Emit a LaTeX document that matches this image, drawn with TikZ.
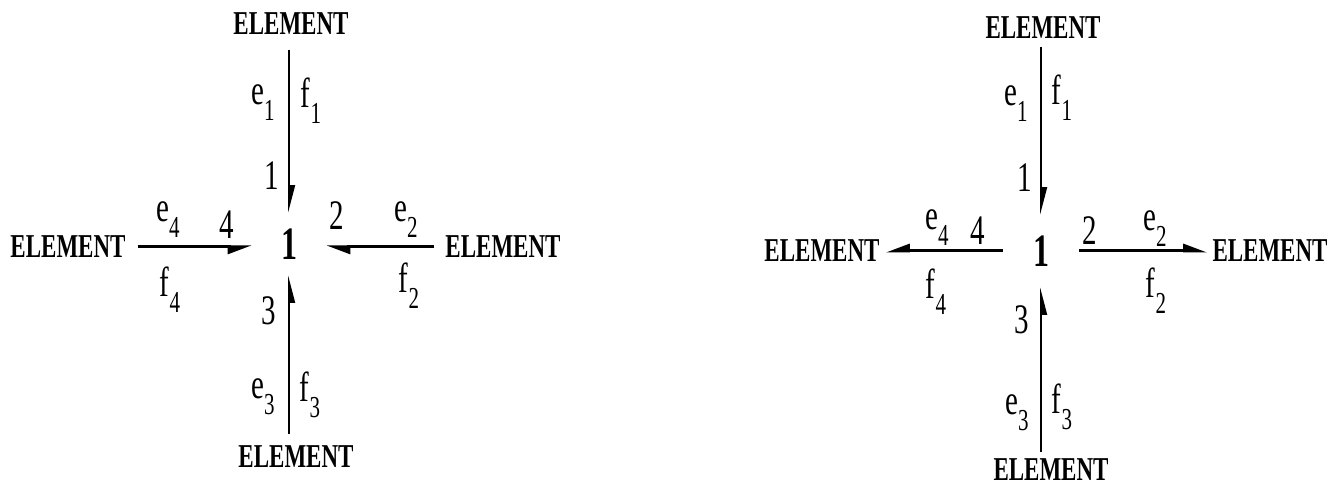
\documentclass[tikz,border=0pt]{standalone}
\usepackage{fontspec}
\setmainfont{Liberation Serif}
\usetikzlibrary{arrows.meta}
\newcommand\vstretch[1]{\scalebox{1}[1.45]{#1}}
\newcommand\lab[2]{#1\raisebox{-0.38em}{\fontsize{21}{21}\selectfont #2}}
\begin{document}
\begin{tikzpicture}[x=1pt,y=-1pt,
  elem/.style={font=\fontsize{23}{23}\selectfont\bfseries, inner sep=0pt, outer sep=12pt},
  junc/.style={font=\fontsize{32}{32}\selectfont\bfseries, inner sep=0pt},
  lbl/.style={font=\fontsize{29}{29}\selectfont, inner sep=0pt},
  vbond/.style={line width=1.8pt, -{Triangle[harpoon,length=24pt,width=12pt]}},
  vbonds/.style={line width=1.8pt, -{Triangle[harpoon,swap,length=24pt,width=12pt]}},
  hbond/.style={line width=3pt, -{Triangle[harpoon,length=20pt,width=14pt]}},
  hbonds/.style={line width=3pt, -{Triangle[harpoon,swap,length=20pt,width=14pt]}}]
\useasboundingbox (0,0) rectangle (1328,489);
% ---------- left diagram ----------
\node[junc, minimum width=74pt, minimum height=62pt] (jA) at (289,244) {\vstretch{1}};
\node[elem, outer sep=15pt] (tA) at (291,24) {\vstretch{ELEMENT}};
\node[elem] (bA) at (296,457) {\vstretch{ELEMENT}};
\node[elem] (lA) at (68,247) {\vstretch{ELEMENT}};
\node[elem, outer sep=11pt] (rA) at (503,247) {\vstretch{ELEMENT}};
\draw[vbond] (jA.north |- tA.south) -- (jA.north);
\draw[vbonds] (jA.south |- bA.north) -- (jA.south);
\draw[hbonds] (lA.east) -- (lA.east -| jA.west);
\draw[hbond] (rA.west) -- (rA.west -| jA.east);
\node[lbl] (e1A) at (263,103) {\vstretch{\lab{e}{1}}};
\node[lbl] (f1A) at (311,101) {\vstretch{\lab{f}{1}}};
\node[lbl] (n1A) at (272,176) {\vstretch{1}};
\node[lbl] (e4A) at (168,220) {\vstretch{\lab{e}{4}}};
\node[lbl] (n4A) at (227,225) {\vstretch{4}};
\node[lbl] (f4A) at (170,290) {\vstretch{\lab{f}{4}}};
\node[lbl] (n2A) at (337,216) {\vstretch{2}};
\node[lbl] (e2A) at (406,220) {\vstretch{\lab{e}{2}}};
\node[lbl] (f2A) at (409,286) {\vstretch{\lab{f}{2}}};
\node[lbl] (n3A) at (269,311) {\vstretch{3}};
\node[lbl] (e3A) at (263,397) {\vstretch{\lab{e}{3}}};
\node[lbl] (f3A) at (310,395) {\vstretch{\lab{f}{3}}};
% ---------- right diagram ----------
\node[junc, minimum width=76pt, minimum height=72pt] (jB) at (1041,251) {\vstretch{1}};
\node[elem, outer sep=8pt] (tB) at (1043,28) {\vstretch{ELEMENT}};
\node[elem, outer sep=7pt] (bB) at (1051,470) {\vstretch{ELEMENT}};
\node[elem, outer sep=6pt] (lB) at (822,251) {\vstretch{ELEMENT}};
\node[elem, outer sep=5pt] (rB) at (1270,251) {\vstretch{ELEMENT}};
\draw[vbond] (jB.north |- tB.south) -- (jB.north);
\draw[vbonds] (jB.south |- bB.north) -- (jB.south);
\draw[hbonds] (lB.east -| jB.west) -- (lB.east);
\draw[hbond] (rB.west -| jB.east) -- (rB.west);
\node[lbl] (e1B) at (1016,104) {\vstretch{\lab{e}{1}}};
\node[lbl] (f1B) at (1062,98) {\vstretch{\lab{f}{1}}};
\node[lbl] (n1B) at (1025,178) {\vstretch{1}};
\node[lbl] (e4B) at (937,228) {\vstretch{\lab{e}{4}}};
\node[lbl] (n4B) at (978,231) {\vstretch{4}};
\node[lbl] (f4B) at (936,292) {\vstretch{\lab{f}{4}}};
\node[lbl] (n2B) at (1090,231) {\vstretch{2}};
\node[lbl] (e2B) at (1155,229) {\vstretch{\lab{e}{2}}};
\node[lbl] (f2B) at (1156,291) {\vstretch{\lab{f}{2}}};
\node[lbl] (n3B) at (1022,320) {\vstretch{3}};
\node[lbl] (e3B) at (1017,413) {\vstretch{\lab{e}{3}}};
\node[lbl] (f3B) at (1062,407) {\vstretch{\lab{f}{3}}};
\end{tikzpicture}
\end{document}
